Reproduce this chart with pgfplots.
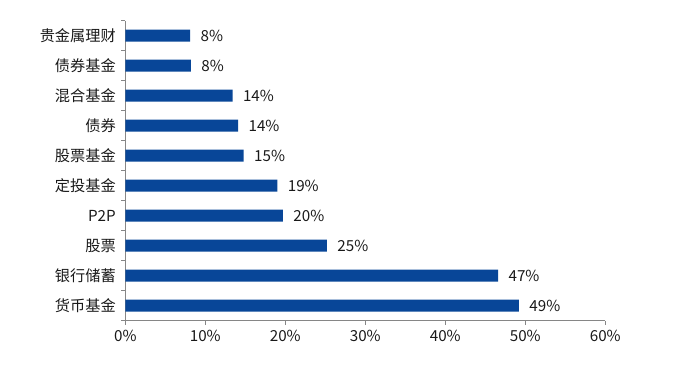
\documentclass[border=0pt]{standalone}
\usepackage{pgfplots}
\pgfplotsset{compat=1.18}
\usepackage{pgfplotstable}
\usepackage{fontspec}
\setmainfont{Noto Sans CJK SC}
\definecolor{barblue}{RGB}{8,70,152}
\definecolor{axgray}{RGB}{134,134,134}
\definecolor{txt}{RGB}{25,25,25}
\pgfplotstableread[col sep=comma]{
y,v,lab
0,49.2,49
1,46.6,47
2,25.2,25
3,19.7,20
4,19.0,19
5,14.8,15
6,14.1,14
7,13.4,14
8,8.2,8
9,8.1,8
}\datatab
\begin{document}
\begin{tikzpicture}
\useasboundingbox (0,0) rectangle (680bp,367bp);
\begin{axis}[
  at={(125.3bp,46.3bp)}, anchor=south west,
  scale only axis, width=480bp, height=300bp,
  xmin=0, xmax=60, ymin=-0.5, ymax=9.5,
  enlargelimits=false,
  xbar, bar width=12bp,
  axis lines*=left,
  axis line style={axgray, line width=0.8bp},
  tick align=outside,
  tick style={axgray, line width=0.8bp},
  major tick length=4bp,
  minor tick length=4bp,
  xtick={0,10,...,60},
  xticklabels={0\%,10\%,20\%,30\%,40\%,50\%,60\%},
  ytick={0,...,9},
  yticklabels={货币基金,银行储蓄,股票,P2P,定投基金,股票基金,债券,混合基金,债券基金,贵金属理财},
  minor ytick={-0.5,0.5,...,9.5},
  every major y tick/.style={draw=none},
  every tick label/.append style={font=\fontsize{15.2bp}{18bp}\selectfont, text=txt},
  yticklabel style={xshift=-2bp},
  xticklabel style={yshift=-2bp},
  point meta=explicit symbolic,
  nodes near coords={\pgfplotspointmeta\%},
  every node near coord/.append style={anchor=west, xshift=7bp, font=\fontsize{15.2bp}{18bp}\selectfont, text=txt},
]
\addplot[fill=barblue, draw=none] table[x=v, y=y, meta=lab] {\datatab};
\end{axis}
\end{tikzpicture}
\end{document}
